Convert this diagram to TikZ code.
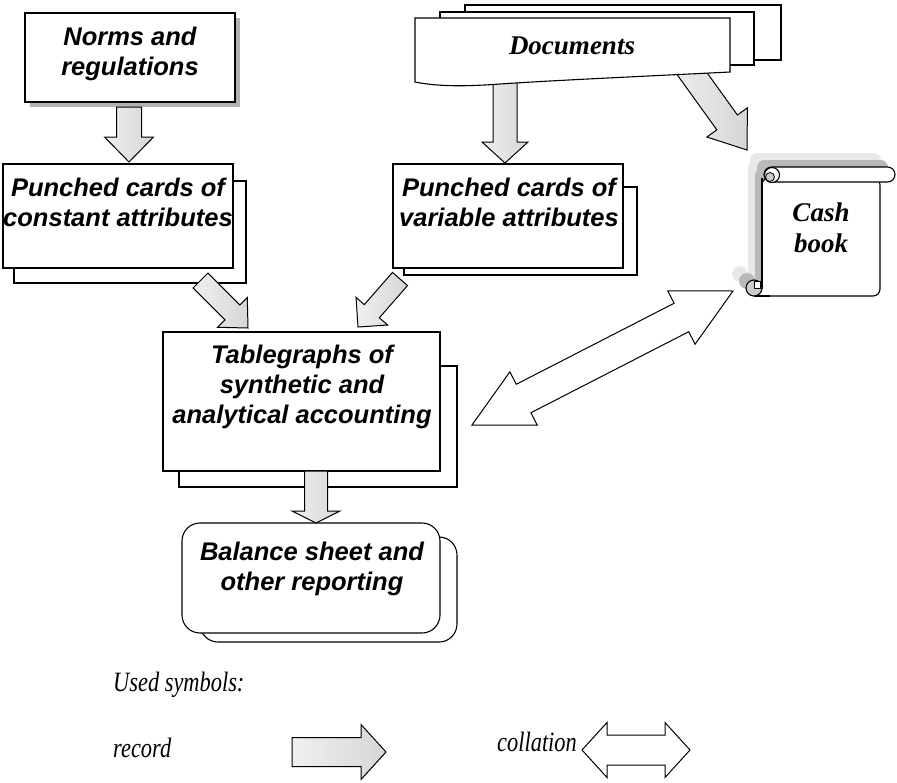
\documentclass[tikz,border=0pt]{standalone}
\usepackage{fontspec}
\usetikzlibrary{calc}
\newfontfamily\boxfont{Liberation Sans}
\newfontfamily\serfont{Liberation Serif}
\newfontfamily\legfont[FakeStretch=0.8]{Liberation Serif}

% block arrow from #1 to #2: shaft half-width #3, head half-width #4, head length #5 (pt)
\newcommand\recarrow[5]{%
  \coordinate (ra-h) at ($(#2)!#5pt!(#1)$);
  \draw[recfill] ($(#1)!#3pt!90:(#2)$) -- ($(ra-h)!#3pt!90:(#2)$) -- ($(ra-h)!#4pt!90:(#2)$)
    -- (#2) -- ($(ra-h)!#4pt!-90:(#2)$) -- ($(ra-h)!#3pt!-90:(#2)$) -- ($(#1)!#3pt!-90:(#2)$) -- cycle;}

% double block arrow between #1 and #2, same parameters
\newcommand\colarrow[5]{%
  \coordinate (ca-l) at ($(#1)!#5pt!(#2)$);
  \coordinate (ca-r) at ($(#2)!#5pt!(#1)$);
  \draw[colfill] (#1) -- ($(ca-l)!#4pt!90:(#2)$) -- ($(ca-l)!#3pt!90:(#2)$) -- ($(ca-r)!#3pt!-90:(#1)$)
    -- ($(ca-r)!#4pt!-90:(#1)$) -- (#2) -- ($(ca-r)!#4pt!90:(#1)$) -- ($(ca-r)!#3pt!90:(#1)$)
    -- ($(ca-l)!#3pt!-90:(#2)$) -- ($(ca-l)!#4pt!-90:(#2)$) -- cycle;}

\begin{document}
\begin{tikzpicture}[x=1pt,y=-1pt,line join=miter,
  card/.style={draw, fill=white, line width=1.1pt, inner sep=0pt},
  sheet/.style={draw, fill=white, line width=1.1pt},
  cardtxt/.style={font=\boxfont\bfseries\itshape\fontsize{25.5}{30}\selectfont, align=center, inner sep=0pt, anchor=north},
  sertxt/.style={font=\serfont\bfseries\itshape\fontsize{27}{31}\selectfont, align=center, inner sep=0pt, anchor=north},
  legtxt/.style={font=\legfont\itshape\fontsize{28}{32}\selectfont, inner sep=0pt, anchor=base west},
  recfill/.style={draw, line width=1pt, left color=gray!12, right color=gray!32},
  colfill/.style={draw, fill=white, line width=1pt}]
\useasboundingbox (0,0) rectangle (897,782);

% ---- arrows leaving the documents (drawn first, they start under the sheets)
\coordinate (r2a) at (505,70);  \coordinate (r2b) at (505,163);
\coordinate (r3a) at (675,50);  \coordinate (r3b) at (747,150);
\recarrow{r2a}{r2b}{12}{23}{21}
\recarrow{r3a}{r3b}{12.7}{25}{34}

% ---- documents: three stacked sheets
\filldraw[sheet] (465,5) rectangle (781,60);
\filldraw[sheet] (440,12) rectangle (754,65);
\filldraw[sheet] (415,18) -- (730,18) -- (730,72) .. controls (650,76) and (560,80) .. (500,84)
   .. controls (460,87) and (435,86) .. (415,82) -- cycle;
\node[sertxt] (docs) at (572,37) {Documents};

% ---- norms and regulations
\fill[gray!60] (30,18) rectangle (240,107);
\node[card, minimum width=210pt, minimum height=89pt] (norms) at (130,57.5) {};
\node[cardtxt] (norms-t) at (130,27) {Norms and\\regulations};

% ---- punched cards
\filldraw[sheet] (14,181) rectangle (246,283);
\node[card, minimum width=230pt, minimum height=104pt] (pcc) at (118,216) {};
\node[cardtxt] (pcc-t) at (118,178) {Punched cards of\\constant attributes};

\filldraw[sheet] (404,187) rectangle (637,275);
\node[card, minimum width=230pt, minimum height=104pt] (pcv) at (508,216) {};
\node[cardtxt] (pcv-t) at (509,178) {Punched cards of\\variable attributes};

\coordinate (r1a) at (129,107); \coordinate (r1b) at (129,162);
\recarrow{r1a}{r1b}{12.5}{24.5}{25}

% ---- tablegraphs
\filldraw[sheet] (179,366) rectangle (457,487);
\node[card, minimum width=277pt, minimum height=139pt] (tab) at (301.5,401.5) {};
\node[cardtxt] (tab-t) at (302,345) {Tablegraphs of\\synthetic and\\analytical accounting};

\coordinate (r4a) at (200.5,280.5); \coordinate (r4b) at (248,328);
\coordinate (r5a) at (400,279);     \coordinate (r5b) at (358,327);
\recarrow{r4a}{r4b}{10.5}{21}{22}
\recarrow{r5a}{r5b}{10}{21}{21}

% ---- balance sheet
\filldraw[sheet, rounded corners=18pt] (200,537) rectangle (457,642);
\node[card, rounded corners=18pt, minimum width=258pt, minimum height=110pt] (bal) at (311,578) {};
\node[cardtxt] (bal-t) at (312,542) {Balance sheet and\\other reporting};

\coordinate (r6a) at (316,471); \coordinate (r6b) at (316,523);
\recarrow{r6a}{r6b}{11.5}{24}{12}

% ---- cash book scroll: two shadows, then the scroll itself
\foreach \d/\c in {14/gray!18, 7/gray!55}{
  \begin{scope}[shift={(-\d,-\d)}]
    \fill[\c, rounded corners=7pt] (762,175) rectangle (880,296);
    \fill[\c] (754,288) circle (8pt);
    \fill[\c, rounded corners=7.5pt] (764,167) rectangle (895,182);
  \end{scope}}
\filldraw[sheet, rounded corners=7pt] (762,178) rectangle (880,296);
\fill[white] (754,281) rectangle (770,296.5);
\draw[line width=1.1pt] (754,296) -- (770,296);
\draw[line width=1.1pt] (762,178) -- (762,289);
\filldraw[sheet, fill=gray!40] (754,288) circle (8pt);
\filldraw[draw=black, line width=0.8pt, fill=white] (754,281.5) rectangle (760,288);
\filldraw[sheet, rounded corners=7.5pt] (764,167) rectangle (895,182);
\filldraw[sheet] (772,175) circle (7.5pt);
\filldraw[fill=gray!40, draw=black, line width=0.8pt] (770,177) circle (4.5pt);
\node[sertxt] (cash) at (821,203) {Cash\\book};

% ---- collation between tablegraphs and cash book
\coordinate (cl) at (472,425); \coordinate (cr) at (733,291);
\colarrow{cl}{cr}{16}{30}{58}

% ---- legend
\node[legtxt] (leg) at (113,691) {Used symbols:};
\node[legtxt] (leg-r) at (113,757) {record};
\node[legtxt] (leg-c) at (497,751) {collation};
\coordinate (lra) at (292,752); \coordinate (lrb) at (386,752);
\recarrow{lra}{lrb}{14.5}{27.5}{25}
\coordinate (lca) at (582,750); \coordinate (lcb) at (690,750);
\colarrow{lca}{lcb}{15}{27.5}{25}
\end{tikzpicture}
\end{document}
